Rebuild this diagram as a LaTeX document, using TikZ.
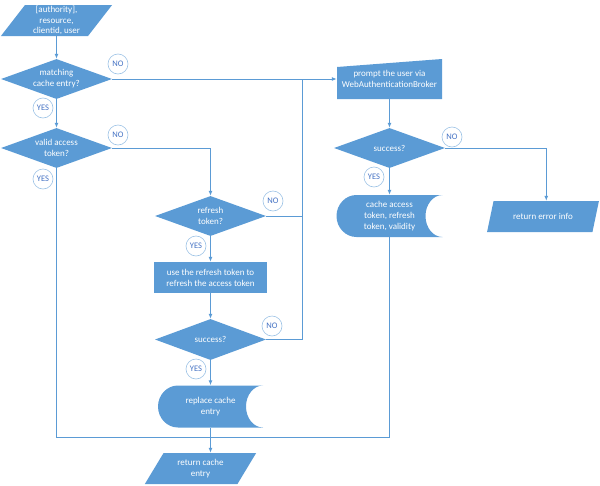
\documentclass[tikz,border=0pt]{standalone}
\usepackage{fontspec}
\setmainfont{Carlito}
\usepackage{xcolor}
\usepackage{tikz}
\usetikzlibrary{shapes.geometric, arrows.meta}
\definecolor{flowblue}{HTML}{5B9BD5}
\definecolor{ringblue}{HTML}{9DC3E6}
\definecolor{markblue}{HTML}{4472C4}
\tikzset{
  box/.style={
    font=\fontsize{9}{11}\selectfont,
    text=white,
    align=center,
    inner sep=0pt
  },
  decide/.style={
    box, diamond, fill=flowblue, aspect=2.8,
    minimum width=111pt, minimum height=40pt
  },
  io/.style={
    box, trapezium, fill=flowblue,
    trapezium left angle=58, trapezium right angle=122,
    trapezium stretches=true,
    minimum width=112pt, minimum height=31pt
  },
  task/.style={
    box, rectangle, fill=flowblue,
    minimum width=113pt, minimum height=31pt
  },
  prompt/.style={
    box, rectangle,
    minimum width=105pt, minimum height=40pt,
    path picture={
      \fill[flowblue] (path picture bounding box.south west)
        -- (path picture bounding box.south east)
        -- (path picture bounding box.north east)
        -- ([yshift=-8pt]path picture bounding box.north west) -- cycle;
    }
  },
  stored/.style={
    box, rectangle,
    minimum width=106pt, minimum height=42pt,
    path picture={
      \fill[flowblue] ([xshift=20pt]path picture bounding box.north west)
        -- (path picture bounding box.north east)
        arc[start angle=90, end angle=270, x radius=17pt, y radius=21pt]
        -- ([xshift=20pt]path picture bounding box.south west)
        arc[start angle=270, end angle=90, x radius=20pt, y radius=21pt]
        -- cycle;
    }
  },
  answer/.style={
    circle, draw=ringblue, fill=white, line width=0.6pt,
    text=markblue, font=\fontsize{8.5}{10}\selectfont,
    minimum size=20pt, inner sep=0pt
  },
  flow/.style={draw=flowblue, line width=0.95pt, -{Latex[length=5pt,width=4pt]}},
  link/.style={draw=flowblue, line width=0.95pt}
}
\begin{document}
\begin{tikzpicture}[x=1pt, y=1pt]
\useasboundingbox (0,0) rectangle (600,-485);
\newcommand\XLeft{56.5}
\newcommand\XMid{210.5}
\newcommand\XRight{389.5}
% left column
\node[io, font=\fontsize{9}{10.5}\selectfont] (In) at (\XLeft,-20.5) {[authority],\\resource,\\clientid, user};
\node[decide] (Q1) at (\XLeft,-79) {matching\\cache entry?};
\node[decide] (Q2) at (\XLeft,-148) {valid access\\token?};
% middle column
\node[decide] (Q3) at (\XMid,-216) {refresh\\token?};
\node[task] (R1) at (\XMid,-277.5) {use the refresh token to\\refresh the access token};
\node[decide, minimum height=41pt] (Q4) at (\XMid,-339.5) {success?};
\node[stored, minimum width=105pt] (S1) at (\XMid,-406.5) {replace cache\\entry};
\node[io] (Out1) at (\XMid-10,-468.5) {return cache\\entry};
% right column
\node[prompt] (M1) at (\XRight,-79) {prompt the user via\\WebAuthenticationBroker};
\node[decide] (Q5) at (\XRight,-148) {success?};
\node[stored] (S2) at (\XRight,-216) {cache access\\token, refresh\\token, validity};
\node[io] (Out2) at (543,-216.5) {return error info};

\coordinate (J1) at (302,-79);
\coordinate (J2) at (\XMid,-437);

\path (In) edge[flow] (Q1)
      (Q1) edge[flow] (Q2)
      (Q3) edge[flow] (R1)
      (R1) edge[flow] (Q4)
      (Q4) edge[flow] (S1)
      (M1) edge[flow] (Q5)
      (Q5) edge[flow] (S2)
      (Q1.east) edge[flow] (M1.west);

\draw[flow] (Q2.east) -| (Q3.north);
\draw[link] (Q3.east) -- (Q3.east -| J1);
\draw[link] (Q4.east) -| (J1);
\draw[flow] (Q5.east) -| (Out2.top side);
\draw[link] (Q2.south) |- (J2);
\draw[link] (S2.south) |- (J2);
\draw[flow] (S1.south) -- (S1.south |- Out1.top side);

% yes / no marks
\node[answer] (N1) at (118,-64) {NO};
\node[answer] (Y1) at (43,-108) {YES};
\node[answer] (N2) at (118,-135) {NO};
\node[answer] (Y2) at (43,-179) {YES};
\node[answer] (N3) at (273,-201) {NO};
\node[answer] (Y3) at (196,-246) {YES};
\node[answer] (N4) at (272,-326) {NO};
\node[answer] (Y4) at (196,-369) {YES};
\node[answer] (N5) at (452,-137) {NO};
\node[answer] (Y5) at (374,-177) {YES};
\end{tikzpicture}
\end{document}
